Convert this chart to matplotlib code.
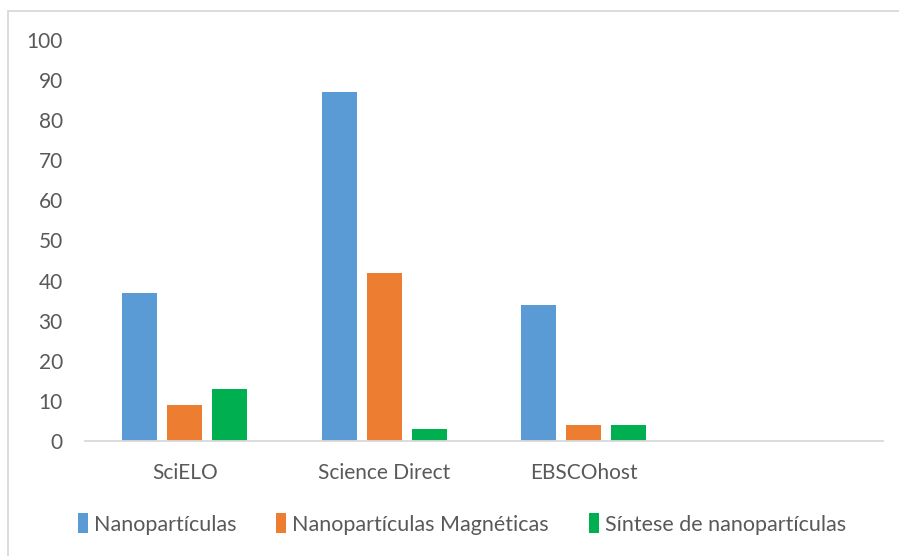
import matplotlib.pyplot as plt
import numpy as np
from matplotlib.patches import Rectangle

# Dados
categorias = ["SciELO", "Science Direct", "EBSCOhost", ""]
series = ["Nanopartículas", "Nanopartículas Magnéticas", "Síntese de nanopartículas"]
nanoparticulas = [37, 87, 34, None]
magneticas = [9, 42, 4, None]
sintese = [13, 3, 4, None]
cores = ["#5B9BD5", "#ED7D31", "#00B050"]

plt.rcParams['font.family'] = ['Lato', 'DejaVu Sans']
texto = "#595959"

fig = plt.figure(figsize=(8.99, 5.56), dpi=100)
ax = fig.add_axes([85 / 899, 115 / 556, 798 / 899, 401 / 556])

x = np.arange(len(categorias))
largura = 0.175
passo = 0.2255
for i, (valores, nome) in enumerate(zip([nanoparticulas, magneticas, sintese], series)):
    v = [np.nan if a is None else a for a in valores]
    ax.bar(x + (i - 1) * passo, v, largura, color=cores[i], label=nome)

ax.set_xlim(-0.5, len(categorias) - 0.5)
ax.set_ylim(0, 100)
ax.set_yticks(range(0, 101, 10))
ax.set_xticks(x)
ax.set_xticklabels(categorias)
ax.tick_params(axis='both', length=0, labelsize=15, colors=texto)
ax.tick_params(axis='y', pad=16)
ax.tick_params(axis='x', pad=16)
for s in ['top', 'right', 'left']:
    ax.spines[s].set_visible(False)
ax.spines['bottom'].set_color('#D9D9D9')
ax.spines['bottom'].set_linewidth(1.3)

leg = fig.legend(loc='center', bbox_to_anchor=(462 / 899, 1 - 524 / 556), ncol=3,
                 frameon=False, fontsize=15.5, handlelength=0.45, handleheight=1.0,
                 handletextpad=0.3, columnspacing=1.85)
for t in leg.get_texts():
    t.set_color(texto)

# moldura do gráfico
fig.patches.append(Rectangle((8 / 899, -0.1), 1.2, 1 - 11 / 556 + 0.1, transform=fig.transFigure,
                             fill=False, edgecolor='#D9D9D9', linewidth=1.3))

fig.savefig("out.png", dpi=100)
